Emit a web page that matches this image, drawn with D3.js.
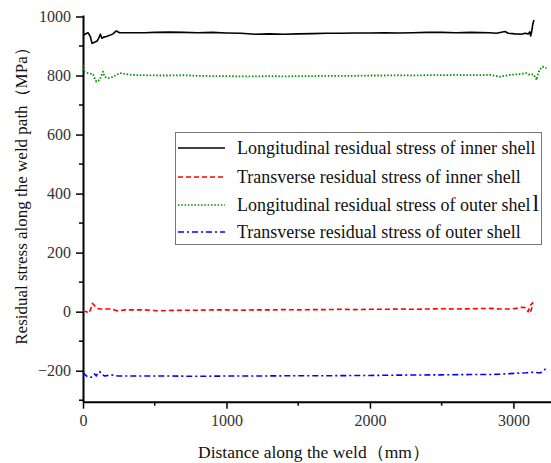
<!DOCTYPE html>
<html><head><meta charset="utf-8">
<script src="https://cdn.jsdelivr.net/npm/d3@7"></script>
<style>body{margin:0;background:#fff}svg{display:block}text{font-family:"Liberation Serif","Times New Roman",serif}</style>
</head><body><svg id="c" width="551" height="463"></svg>
<script>
// Data (distance mm, stress MPa)
const innerLongX = [0,16,35,51,63,81,98,109,121,132,144,163,186,209,232,255,314,430,500,600,700,800,900,1000,1100,1200,1300,1400,1500,1600,1700,1800,1900,2000,2100,2200,2300,2400,2500,2600,2700,2836,2883,2941,2964,3010,3057,3080,3103,3115,3120,3127,3134,3143];
const innerLongY = [934,941,945,932,909,913,917,926,940,926,930,932,936,941,951,945,945,945,946,947,946,945,946,944,943,940,941,940,941,942,943,943,944,944,945,944,945,946,946,945,946,945,943,949,943,941,940,943,941,948,934,948,971,988];

const innerTransX = [0,23,40,53,65,77,93,116,186,220,244,290,430,523,600,700,800,900,1000,1100,1200,1300,1400,1500,1600,1700,1800,1900,2000,2100,2200,2300,2400,2500,2600,2700,2836,2906,2976,3022,3057,3080,3092,3103,3110,3115,3127,3134,3127,3120];
const innerTransY = [3,0,-5,8,28,23,12,9,9,6,2,6,6,3,4,5,5,6,6,5,6,6,7,6,7,7,8,7,8,8,9,8,9,10,9,10,11,9,9,11,15,14,6,0,11,19,26,30,11,0];

const outerLongX = [0,5,35,70,81,93,116,139,151,174,197,256,337,523,600,700,800,900,1000,1100,1200,1300,1400,1500,1600,1700,1800,1900,2000,2100,2200,2300,2400,2500,2600,2700,2836,2906,2976,3045,3092,3115,3138,3150,3162,3173,3185,3203,3231];
const outerLongY = [835,813,808,805,791,779,785,813,796,791,793,808,802,800,800,801,799,798,798,797,797,798,797,798,798,799,799,799,800,800,801,800,801,801,802,801,802,796,802,805,808,802,804,796,785,808,821,830,824];

const outerTransX = [0,16,35,58,70,81,93,105,116,128,151,197,244,523,600,800,1000,1200,1500,1700,2000,2200,2500,2700,2836,2900,2976,3045,3090,3140,3185,3208,3220,3231];
const outerTransY = [-206,-214,-222,-222,-214,-211,-218,-206,-203,-211,-218,-214,-218,-218,-218,-219,-218,-218,-217,-217,-216,-215,-214,-213,-213,-212,-210,-208,-207,-205,-208,-201,-195,-199];

const seriesNames = ["Longitudinal residual stress of inner shell","Transverse residual stress of inner shell","Longitudinal residual stress of outer shel","Transverse residual stress of outer shell"];
const xTicks = [0,1000,2000,3000];
const yTicks = [-200,0,200,400,600,800,1000];
const xLabel = "Distance along the weld（mm）";
const yLabel = "Residual stress along the weld path（MPa）";

const series = [
  {name:seriesNames[0], xs:innerLongX, ys:innerLongY, color:"#000000", dash:null},
  {name:seriesNames[1], xs:innerTransX, ys:innerTransY, color:"#ff0000", dash:"5,3"},
  {name:seriesNames[2], xs:outerLongX, ys:outerLongY, color:"#009000", dash:"1.5,1.8"},
  {name:seriesNames[3], xs:outerTransX, ys:outerTransY, color:"#0000ff", dash:"6,3,2,3"}
];

const svg = d3.select("#c");
const x = d3.scaleLinear().domain([0,3262]).range([83,551]);
const y = d3.scaleLinear().domain([-305,1005]).range([401.7,15]);

// axes
const xMinor = [500,1500,2500];
const yMinor = [-300,-100,100,300,500,700,900];
const gx = svg.append("g").attr("transform","translate(0,401.7)");
gx.call(d3.axisBottom(x).tickValues(xTicks).tickSize(7).tickSizeOuter(0).tickPadding(6).tickFormat(d3.format("d")));
gx.append("g").selectAll("line").data(xMinor).join("line")
  .attr("x1",d=>x(d)).attr("x2",d=>x(d)).attr("y1",0).attr("y2",4).attr("stroke","#000").attr("stroke-width",1.5);
const gy = svg.append("g").attr("transform","translate(83,0)");
gy.call(d3.axisLeft(y).tickValues(yTicks).tickSize(7).tickSizeOuter(0).tickPadding(5).tickFormat(d=>d<0?"\u2212"+Math.abs(d):d));
gy.append("g").selectAll("line").data(yMinor).join("line")
  .attr("x1",0).attr("x2",-4).attr("y1",d=>y(d)).attr("y2",d=>y(d)).attr("stroke","#000").attr("stroke-width",1.5);
[gx,gy].forEach(g=>{
  g.select(".domain").attr("stroke","#000").attr("stroke-width",2);
  g.selectAll(".tick line").attr("stroke","#000").attr("stroke-width",1.5);
  g.selectAll(".tick text").attr("font-size",16).attr("fill","#333").attr("font-family","Liberation Serif, serif");
});

// lines
const line = d3.line().x(d=>x(d[0])).y(d=>y(d[1]));
series.forEach(s=>{
  const pts = s.xs.map((v,i)=>[v,s.ys[i]]);
  svg.append("path").datum(pts).attr("d",line).attr("fill","none")
    .attr("stroke",s.color).attr("stroke-width",s.dash&&s.dash.startsWith("1.5")?1.8:1.6)
    .attr("stroke-dasharray",s.dash).attr("stroke-linejoin","round");
});

// titles
svg.append("text").attr("x",314).attr("y",458).attr("text-anchor","middle").attr("font-size",17.5).attr("fill","#111").text(xLabel);
svg.append("text").attr("transform","translate(27,192) rotate(-90)").attr("text-anchor","middle").attr("font-size",17).attr("fill","#111").text(yLabel);

// legend
const lg = svg.append("g");
lg.append("rect").attr("x",175.5).attr("y",132.5).attr("width",366).attr("height",112).attr("fill","#fff").attr("stroke","#777").attr("stroke-width",1);
const rowY = [148,177,205,232];
series.forEach((s,i)=>{
  lg.append("line").attr("x1",178).attr("x2",225).attr("y1",rowY[i]).attr("y2",rowY[i])
    .attr("stroke",s.color).attr("stroke-width",1.5).attr("stroke-dasharray",s.dash);
  const t = lg.append("text").attr("x",237).attr("y",rowY[i]+6).attr("font-size",18).attr("fill","#111").text(s.name);
  if(i===2){ t.append("tspan").attr("dx",2).attr("font-size",24).text("l"); }
});
</script></body></html>
